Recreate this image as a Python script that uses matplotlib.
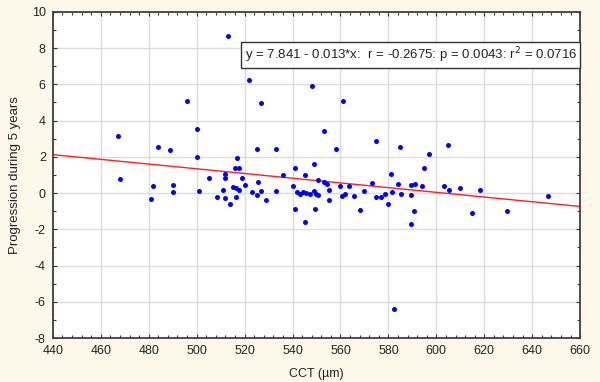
import numpy as np
import matplotlib
matplotlib.use("Agg")
import matplotlib.pyplot as plt
from matplotlib.ticker import MultipleLocator

plt.rcParams['font.family'] = ['Liberation Sans', 'DejaVu Sans']
plt.rcParams['axes.unicode_minus'] = False

cct = [467, 468, 484, 489, 482, 490, 490, 481, 496, 500, 500, 501, 513, 522, 527,
       525, 533, 517, 516, 517.5, 512, 512, 505, 519, 536, 541, 525.4, 520, 515,
       516.5, 517.5, 511, 508.7, 512, 516.3, 514, 523, 525.3, 526.8, 529, 533.2,
       540.3, 541.2, 545, 545, 548, 561, 553, 558, 575, 585, 605, 597, 549, 595,
       581, 550.6, 553, 554.5, 573, 584, 589.4, 591, 594, 603, 605.4, 610, 618,
       560, 563.4, 570, 549.2, 555.2, 568, 560.7, 562, 565.8, 575, 577, 578.7,
       580, 581.4, 585.2, 589.4, 590.5, 589.4, 582.4, 615, 629.3, 646.4, 555.2,
       541.7, 543, 544.4, 545.8, 547.2, 549, 550, 550.7]
progression = [3.13, 0.78, 2.52, 2.40, 0.40, 0.46, 0.04, -0.33, 5.06, 3.56, 1.98, 0.09,
               8.69, 6.26, 4.97, 2.45, 2.45, 1.92, 1.37, 1.37, 1.08, 0.82, 0.82, 0.85,
               1.02, 1.37, 0.59, 0.42, 0.34, 0.28, 0.19, 0.15, -0.20, -0.27, -0.23,
               -0.63, 0.05, -0.10, 0.13, -0.38, 0.12, 0.39, -0.88, -1.59, 1.02, 5.89,
               5.10, 3.42, 2.45, 2.86, 2.52, 2.68, 2.15, 1.60, 1.37, 1.07, 0.72, 0.59,
               0.50, 0.58, 0.52, 0.42, 0.51, 0.40, 0.40, 0.19, 0.26, 0.15, 0.37, 0.37,
               0.14, -0.86, -0.40, -0.92, -0.18, -0.03, -0.15, -0.21, -0.21, -0.05,
               -0.58, 0.07, -0.03, -0.10, -1.01, -1.72, -6.37, -1.12, -1.01, -0.15,
               0.17, 0.04, -0.03, 0.06, 0.01, -0.03, 0.09, -0.03, -0.13]

intercept = 7.841
slope = -0.013
x_range = [440, 660]
annotation = "y = 7.841 - 0.013*x:  r = -0.2675: p = 0.0043: r$^2$ = 0.0716"

fig = plt.figure(figsize=(6.0, 3.82), dpi=100, facecolor='#fdf8ea')
ax = fig.add_axes([0.088, 0.115, 0.879, 0.854])
ax.set_facecolor('white')

ax.set_xlim(x_range)
ax.set_ylim(-8, 10)
ax.xaxis.set_major_locator(MultipleLocator(20))
ax.xaxis.set_minor_locator(MultipleLocator(4))
ax.yaxis.set_major_locator(MultipleLocator(2))
ax.yaxis.set_minor_locator(MultipleLocator(1))
ax.grid(True, which='major', color='#dcdcdc', linewidth=1.0, zorder=0)
ax.set_axisbelow(True)

ax.tick_params(which='both', direction='in', top=True, right=True,
               colors='#333333', labelcolor='#222222', labelsize=9)
ax.tick_params(which='major', length=3, width=0.8, pad=5)
ax.tick_params(which='minor', length=2, width=0.8)
for s in ax.spines.values():
    s.set_color('#404040')
    s.set_linewidth(1.3)

xl = np.array(x_range, dtype=float)
ax.plot(xl, intercept + slope * xl, color='#ff2020', linewidth=1.0, zorder=2)
ax.plot(cct, progression, linestyle='none', marker='o', markersize=3.6,
        color='#0000ff', markeredgewidth=0, zorder=3)

ax.text(0.994, 7.6, annotation, transform=ax.get_yaxis_transform(),
        ha='right', va='center', fontsize=9.5, color='#222222', zorder=5,
        bbox=dict(boxstyle='square,pad=0.25', facecolor='white',
                  edgecolor='#333333', linewidth=1.0))

ax.set_xlabel("CCT (µm)", fontsize=9, color='#222222', labelpad=8)
ax.set_ylabel("Progression during 5 years", fontsize=9.5, color='#222222', labelpad=8)

fig.savefig("out.png", dpi=100, facecolor=fig.get_facecolor())
